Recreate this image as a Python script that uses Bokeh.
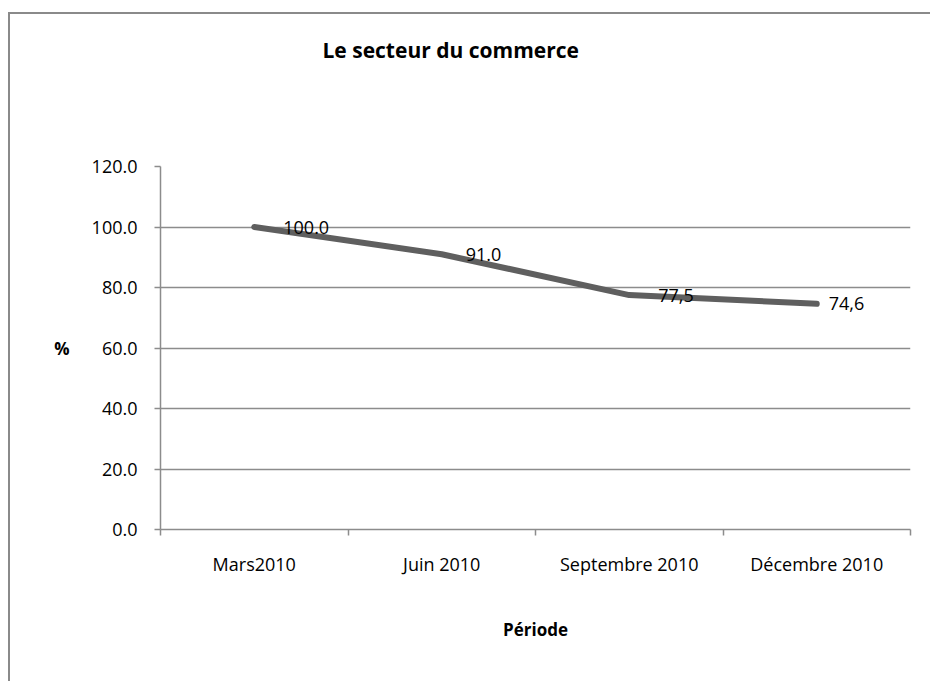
from bokeh.plotting import figure
from bokeh.models import FixedTicker, NumeralTickFormatter, Title, ColumnDataSource
from bokeh.core.properties import value
from bokeh.embed import file_html
from bokeh.resources import INLINE

# ---- data ----
categories = ["Mars2010", "Juin 2010", "Septembre 2010", "Décembre 2010"]
values = [100.0, 91.0, 77.5, 74.6]
value_labels = ["100.0", "91.0", "77,5", "74,6"]
y_ticks = [0, 20, 40, 60, 80, 100, 120]
title_text = "Le secteur du commerce"
x_title = "Période"
y_title = "%"

# ---- style ----
FONT = "Open Sans"
GRID = "#8c8c8c"
LINE = "#5f5f5f"
label_dx = [29, 24, 29, 12]

W, H = 922, 669
p = figure(width=W, height=H, output_backend="svg", toolbar_location=None,
           x_range=(0, len(categories)), y_range=(y_ticks[0], y_ticks[-1]),
           min_border_left=150, min_border_right=22,
           min_border_top=152, min_border_bottom=154)
p.styles = {"margin-left": "8px", "margin-top": "12px",
            "border-left": "2px solid #8a8a8a", "border-top": "2px solid #8a8a8a"}
p.outline_line_color = None
p.background_fill_color = "white"
p.border_fill_color = "white"

xs = [i + 0.5 for i in range(len(categories))]

# x axis
xa = p.xaxis[0]
xa.ticker = FixedTicker(ticks=xs, minor_ticks=list(range(len(categories) + 1)))
xa.major_label_overrides = {x: c for x, c in zip(xs, categories)}
xa.major_tick_line_color = None
xa.major_tick_out = 0
xa.major_tick_in = 0
xa.minor_tick_in = 0
xa.minor_tick_out = 6
xa.minor_tick_line_color = GRID
xa.minor_tick_line_width = 1.5
xa.axis_line_color = GRID
xa.axis_line_width = 1.5
xa.major_label_standoff = 16
xa.major_label_text_font = FONT
xa.major_label_text_font_size = "18px"
xa.major_label_text_color = "black"
xa.axis_label = x_title
xa.axis_label_text_font = FONT
xa.axis_label_text_font_style = "bold"
xa.axis_label_text_font_size = "17px"
xa.axis_label_text_color = "black"
xa.axis_label_standoff = 39

# y axis
ya = p.yaxis[0]
ya.ticker = FixedTicker(ticks=y_ticks)
ya.formatter = NumeralTickFormatter(format="0.0")
ya.major_tick_out = 6
ya.major_tick_in = 0
ya.major_tick_line_color = GRID
ya.major_tick_line_width = 1.5
ya.minor_tick_line_color = None
ya.axis_line_color = GRID
ya.axis_line_width = 1.5
ya.major_label_standoff = 17
ya.major_label_text_font = FONT
ya.major_label_text_font_size = "18px"
ya.major_label_text_color = "black"
ya.axis_label = y_title
ya.axis_label_orientation = "horizontal"
ya.axis_label_text_font = FONT
ya.axis_label_text_font_style = "bold"
ya.axis_label_text_font_size = "17px"
ya.axis_label_text_color = "black"
ya.axis_label_standoff = 19

p.xgrid.grid_line_color = None
p.ygrid.grid_line_color = GRID
p.ygrid.grid_line_width = 1.5

src = ColumnDataSource(dict(x=xs, y=values, t=value_labels, dx=label_dx))
p.line("x", "y", source=src, line_color=LINE, line_width=6,
       line_cap="round", line_join="round")
p.text("x", "y", text="t", source=src, x_offset="dx", text_baseline="middle",
       text_align="left", text_font=value(FONT), text_font_size="18px",
       text_color="black")

# spacer between the frame and the chart title
p.add_layout(Title(text=" ", standoff=100, text_font_size="1px",
                   text_color="white"), "above")
p.add_layout(Title(text=title_text, align="left", offset=162, standoff=0,
                   text_font=FONT, text_font_style="bold", text_font_size="21px",
                   text_color="black"), "above")

open("out.html", "w").write(file_html(p, INLINE))
